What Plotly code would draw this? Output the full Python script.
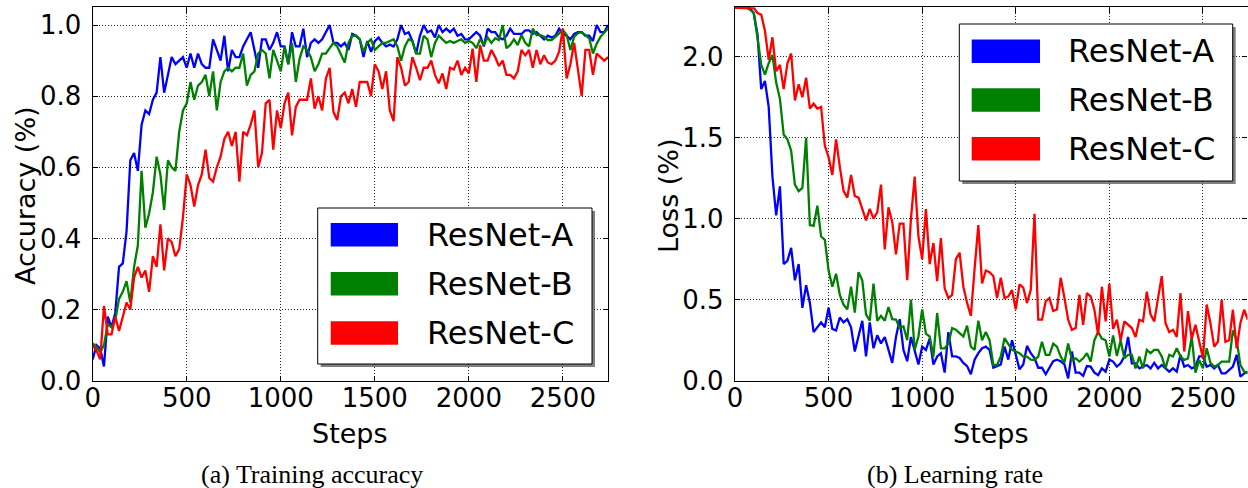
import plotly.graph_objects as go

# ---------------- data ----------------
steps = list(range(0, 2741, 20))
series_names = ["ResNet-A", "ResNet-B", "ResNet-C"]
series_colors = ["#0000ff", "#008000", "#ff0000"]

acc_a = [0.06, 0.10, 0.09, 0.04, 0.18, 0.15, 0.19, 0.32, 0.33, 0.42,
         0.62, 0.64, 0.59, 0.72, 0.76, 0.75, 0.79, 0.81, 0.91, 0.81,
         0.86, 0.91, 0.89, 0.90, 0.91, 0.88, 0.92, 0.88, 0.92, 0.89,
         0.88, 0.88, 0.96, 0.93, 0.90, 0.97, 0.87, 0.93, 0.91, 0.91,
         0.94, 0.96, 0.98, 0.93, 0.88, 0.96, 0.96, 0.93, 0.95, 0.98,
         0.94, 0.94, 0.89, 0.98, 0.94, 0.94, 0.99, 0.91, 0.95, 0.96,
         0.95, 0.96, 0.98, 1.00, 0.95, 0.95, 0.94, 0.95, 0.93, 0.975,
         0.97, 0.96, 0.91, 0.955, 0.925, 0.955, 0.965, 0.95, 0.94, 0.945,
         0.94, 0.96, 1.00, 0.975, 0.98, 0.955, 0.92, 0.97, 1.00, 0.98,
         0.985, 0.965, 1.00, 0.98, 0.99, 0.98, 0.99, 0.97, 0.975, 0.96,
         0.96, 0.97, 0.98, 0.97, 0.94, 0.99, 0.98, 0.98, 0.965, 0.96,
         0.97, 0.99, 0.975, 0.975, 0.975, 0.985, 0.985, 0.975, 0.98, 0.97,
         0.96, 0.97, 0.965, 0.97, 0.99, 0.975, 0.97, 0.96, 0.975, 0.98,
         0.98, 0.97, 0.97, 0.955, 1.00, 0.98, 0.98, 1.00]

acc_b = [0.105, 0.095, 0.08, 0.10, 0.16, 0.15, 0.17, 0.23, 0.25, 0.28,
         0.22, 0.32, 0.38, 0.59, 0.43, 0.47, 0.53, 0.63, 0.58, 0.48,
         0.62, 0.60, 0.59, 0.70, 0.76, 0.78, 0.84, 0.79, 0.83, 0.84,
         0.86, 0.80, 0.87, 0.76, 0.84, 0.87, 0.88, 0.87, 0.88, 0.88,
         0.92, 0.83, 0.86, 0.87, 0.92, 0.93, 0.92, 0.85, 0.93, 0.90,
         0.87, 0.94, 0.89, 0.95, 0.84, 0.905, 0.94, 0.93, 0.91, 0.87,
         0.89, 0.92, 0.92, 0.935, 0.95, 0.94, 0.915, 0.895, 0.95, 0.97,
         0.97, 0.96, 0.925, 0.95, 0.96, 0.93, 0.94, 0.95, 0.95, 0.955,
         0.96, 0.94, 0.90, 0.94, 0.96, 0.955, 0.92, 0.92, 0.97, 0.96,
         0.91, 0.95, 0.97, 0.96, 0.95, 0.955, 0.95, 0.955, 0.96, 0.95,
         0.955, 0.95, 0.935, 0.96, 0.945, 0.965, 0.95, 0.963, 0.958, 1.00,
         0.935, 0.944, 0.96, 0.944, 0.972, 0.95, 0.94, 0.99, 0.972, 0.972,
         0.967, 0.958, 0.958, 0.967, 0.977, 0.986, 0.972, 0.93, 0.967, 0.977,
         0.98, 0.972, 0.963, 0.92, 0.948, 0.967, 0.98, 0.99]

acc_c = [0.10, 0.085, 0.06, 0.21, 0.13, 0.13, 0.18, 0.14, 0.18, 0.22,
         0.20, 0.29, 0.32, 0.29, 0.31, 0.25, 0.35, 0.32, 0.44, 0.31,
         0.40, 0.39, 0.35, 0.37, 0.46, 0.58, 0.55, 0.49, 0.55, 0.58,
         0.65, 0.57, 0.56, 0.60, 0.63, 0.68, 0.70, 0.66, 0.70, 0.56,
         0.70, 0.69, 0.72, 0.76, 0.60, 0.64, 0.78, 0.79, 0.65, 0.76,
         0.71, 0.78, 0.81, 0.69, 0.77, 0.79, 0.79, 0.79, 0.85, 0.765,
         0.80, 0.76, 0.85, 0.88, 0.756, 0.733, 0.80, 0.81, 0.78, 0.82,
         0.77, 0.84, 0.84, 0.84, 0.80, 0.89, 0.87, 0.82, 0.87, 0.76,
         0.73, 0.91, 0.88, 0.83, 0.84, 0.91, 0.88, 0.845, 0.88, 0.88,
         0.90, 0.86, 0.836, 0.864, 0.82, 0.88, 0.875, 0.90, 0.86, 0.88,
         0.864, 0.934, 0.84, 0.944, 0.90, 0.90, 0.93, 0.91, 0.885, 0.90,
         0.86, 0.86, 0.85, 0.87, 0.93, 0.915, 0.93, 0.88, 0.93, 0.89,
         0.915, 0.895, 0.89, 0.90, 0.925, 0.99, 0.85, 0.89, 0.95, 0.88,
         0.80, 0.93, 0.93, 0.86, 0.92, 0.91, 0.90, 0.91]

loss_a = [2.302, 2.302, 2.302, 2.302, 2.30, 2.27, 2.14, 1.80, 1.85, 1.69,
          1.26, 1.02, 1.20, 0.72, 0.74, 0.82, 0.62, 0.72, 0.45, 0.59,
          0.48, 0.30, 0.33, 0.36, 0.33, 0.45, 0.32, 0.31, 0.39, 0.36,
          0.38, 0.33, 0.18, 0.28, 0.37, 0.15, 0.36, 0.20, 0.28, 0.23,
          0.27, 0.19, 0.11, 0.27, 0.38, 0.19, 0.12, 0.27, 0.18, 0.10,
          0.21, 0.19, 0.26, 0.10, 0.15, 0.17, 0.05, 0.30, 0.15, 0.15,
          0.14, 0.11, 0.09, 0.04, 0.13, 0.17, 0.20, 0.21, 0.19, 0.08,
          0.09, 0.10, 0.21, 0.13, 0.25, 0.15, 0.07, 0.10, 0.215, 0.17,
          0.14, 0.08, 0.08, 0.04, 0.08, 0.12, 0.13, 0.12, 0.10, 0.014,
          0.18, 0.05, 0.05, 0.03, 0.09, 0.087, 0.05, 0.035, 0.076, 0.056,
          0.13, 0.118, 0.087, 0.107, 0.149, 0.27, 0.107, 0.107, 0.076, 0.087,
          0.097, 0.076, 0.11, 0.076, 0.097, 0.076, 0.056, 0.076, 0.056, 0.16,
          0.087, 0.097, 0.076, 0.087, 0.15, 0.15, 0.087, 0.097, 0.076, 0.097,
          0.045, 0.045, 0.066, 0.087, 0.16, 0.025, 0.045, 0.056]

loss_b = [2.302, 2.302, 2.302, 2.302, 2.29, 2.27, 2.12, 1.95, 1.89, 1.96,
          2.01, 1.84, 1.74, 1.52, 1.49, 1.42, 1.21, 1.17, 1.19, 1.50,
          0.96, 0.955, 1.08, 0.89, 0.87, 0.68, 0.58, 0.66, 0.53, 0.47,
          0.44, 0.58, 0.42, 0.67, 0.62, 0.41, 0.37, 0.60, 0.37, 0.40,
          0.37, 0.455, 0.38, 0.377, 0.325, 0.335, 0.25, 0.50, 0.19, 0.273,
          0.44, 0.29, 0.273, 0.149, 0.418, 0.20, 0.20, 0.23, 0.325, 0.315,
          0.294, 0.273, 0.34, 0.21, 0.19, 0.37, 0.25, 0.30, 0.25, 0.097,
          0.097, 0.149, 0.263, 0.23, 0.19, 0.18, 0.17, 0.149, 0.149, 0.13,
          0.128, 0.149, 0.24, 0.16, 0.16, 0.228, 0.21, 0.149, 0.112, 0.23,
          0.128, 0.138, 0.118, 0.138, 0.17, 0.118, 0.25, 0.30, 0.26, 0.25,
          0.149, 0.28, 0.153, 0.25, 0.138, 0.16, 0.16, 0.076, 0.149, 0.076,
          0.19, 0.17, 0.19, 0.19, 0.149, 0.076, 0.16, 0.149, 0.20, 0.149,
          0.128, 0.138, 0.27, 0.05, 0.128, 0.076, 0.20, 0.11, 0.087, 0.097,
          0.118, 0.118, 0.118, 0.31, 0.25, 0.097, 0.056, 0.045]

loss_c = [2.302, 2.302, 2.302, 2.302, 2.302, 2.302, 2.27, 2.26, 2.16, 1.98,
          2.12, 1.91, 1.95, 1.80, 1.96, 2.02, 1.73, 1.83, 1.75, 1.87,
          1.68, 1.71, 1.68, 1.69, 1.45, 1.38, 1.27, 1.49, 1.32, 1.17,
          1.13, 1.27, 1.14, 1.13, 1.06, 0.99, 1.06, 1.00, 1.04, 1.21,
          0.81, 1.07, 0.98, 0.78, 0.97, 0.97, 0.62, 1.00, 1.26, 0.89,
          0.75, 1.06, 0.72, 0.85, 0.615, 0.88, 0.57, 0.51, 0.53, 0.75,
          0.79, 0.58, 0.48, 0.40, 0.69, 0.96, 0.60, 0.68, 0.67, 0.646,
          0.51, 0.635, 0.51, 0.52, 0.56, 0.44, 0.594, 0.575, 0.48, 0.56,
          1.03, 0.377, 0.377, 0.49, 0.51, 0.43, 0.44, 0.635, 0.51, 0.376,
          0.314, 0.325, 0.53, 0.345, 0.54, 0.52, 0.438, 0.283, 0.58, 0.366,
          0.60, 0.32, 0.376, 0.25, 0.366, 0.345, 0.325, 0.27, 0.376, 0.366,
          0.55, 0.41, 0.366, 0.51, 0.645, 0.355, 0.30, 0.314, 0.27, 0.54,
          0.18, 0.43, 0.26, 0.345, 0.25, 0.138, 0.47, 0.355, 0.21, 0.24,
          0.50, 0.24, 0.25, 0.438, 0.20, 0.355, 0.438, 0.376]

acc_ticks = [0.0, 0.2, 0.4, 0.6, 0.8, 1.0]
loss_ticks = [0.0, 0.5, 1.0, 1.5, 2.0]
step_ticks = [0, 500, 1000, 1500, 2000, 2500]

# ---------------- layout helpers ----------------
W, H = 1248, 488
def px(x):
    return x / W
def py(y):
    return 1 - y / H

SANS = "DejaVu Sans"
SERIF = "Liberation Serif"

fig = go.Figure()
for vals, name, col in zip([acc_a, acc_b, acc_c], series_names, series_colors):
    fig.add_trace(go.Scatter(x=steps, y=vals, mode="lines", name=name,
                             line=dict(color=col, width=2.3),
                             xaxis="x", yaxis="y", showlegend=False))
for vals, name, col in zip([loss_a, loss_b, loss_c], series_names, series_colors):
    fig.add_trace(go.Scatter(x=steps, y=vals, mode="lines", name=name,
                             line=dict(color=col, width=2.3),
                             xaxis="x2", yaxis="y2", showlegend=False))

ax_common = dict(showline=True, linecolor="black", linewidth=1.4, mirror="allticks",
                 ticks="inside", ticklen=5, tickwidth=1, tickcolor="black",
                 showgrid=True, gridcolor="rgba(0,0,0,0.85)", gridwidth=1,
                 griddash="1px,2px", zeroline=False, automargin=False,
                 tickfont=dict(family=SANS, size=26, color="black"))

ydom = [py(380.7), py(7.3)]
fig.update_layout(
    width=W, height=H,
    margin=dict(l=0, r=0, t=0, b=0, autoexpand=False),
    paper_bgcolor="white", plot_bgcolor="white",
    xaxis=dict(domain=[px(92.7), px(608)], range=[0, 2740], tickvals=step_ticks,
               tickformat="d", anchor="y", ticklabelstandoff=-6, **ax_common),
    yaxis=dict(domain=ydom, range=[0, 1.05], tickvals=acc_ticks, tickformat=".1f",
               anchor="x", ticklabelstandoff=5, **ax_common),
    xaxis2=dict(domain=[px(735), px(1247.5)], range=[0, 2738], tickvals=step_ticks,
                tickformat="d", anchor="y2", ticklabelstandoff=-6, **ax_common),
    yaxis2=dict(domain=ydom, range=[0, 2.305], tickvals=loss_ticks, tickformat=".1f",
                anchor="x2", ticklabelstandoff=5, **ax_common),
)

shapes = []
annotations = []

def add_legend(x0, y0, x1, y1, patch_x0, patch_x1, rows, text_x):
    # shadow
    shapes.append(dict(type="rect", xref="paper", yref="paper",
                       x0=px(x0 + 3), x1=px(x1 + 3), y0=py(y1 + 3), y1=py(y0 + 3),
                       fillcolor="rgba(0,0,0,0.5)", line=dict(width=0), layer="above"))
    shapes.append(dict(type="rect", xref="paper", yref="paper",
                       x0=px(x0), x1=px(x1), y0=py(y1), y1=py(y0),
                       fillcolor="white", line=dict(color="black", width=1), layer="above"))
    for rc, name, col in zip(rows, series_names, series_colors):
        shapes.append(dict(type="rect", xref="paper", yref="paper",
                           x0=px(patch_x0), x1=px(patch_x1), y0=py(rc + 11.7), y1=py(rc - 11.7),
                           fillcolor=col, line=dict(width=0), layer="above"))
        annotations.append(dict(text=name, xref="paper", yref="paper", x=px(text_x), y=py(rc),
                                xanchor="left", yanchor="middle", showarrow=False,
                                font=dict(family=SANS, size=32, color="black")))

add_legend(317.7, 208, 592, 364, 330.7, 398, [234.7, 283.8, 333.0], 425)
add_legend(959.3, 24, 1232.7, 181, 971.7, 1040, [51.3, 100.0, 148.7], 1066)

# axis titles
annotations += [
    dict(text="Steps", xref="paper", yref="paper", x=px(350.4), y=py(433),
         xanchor="center", yanchor="middle", showarrow=False,
         font=dict(family=SANS, size=27, color="black")),
    dict(text="Steps", xref="paper", yref="paper", x=px(991), y=py(433),
         xanchor="center", yanchor="middle", showarrow=False,
         font=dict(family=SANS, size=27, color="black")),
    dict(text="Accuracy (%)", xref="paper", yref="paper", x=px(25), y=py(196),
         xanchor="center", yanchor="middle", textangle=-90, showarrow=False,
         font=dict(family=SANS, size=27, color="black")),
    dict(text="Loss (%)", xref="paper", yref="paper", x=px(668), y=py(196),
         xanchor="center", yanchor="middle", textangle=-90, showarrow=False,
         font=dict(family=SANS, size=27, color="black")),
    dict(text="(a) Training accuracy", xref="paper", yref="paper", x=px(312), y=py(474),
         xanchor="center", yanchor="middle", showarrow=False,
         font=dict(family=SERIF, size=26, color="black")),
    dict(text="(b) Learning rate", xref="paper", yref="paper", x=px(955), y=py(474),
         xanchor="center", yanchor="middle", showarrow=False,
         font=dict(family=SERIF, size=26, color="black")),
]

fig.update_layout(shapes=shapes, annotations=annotations)
fig.write_html("out.html", config={"displayModeBar": False},
               post_script="document.body.style.margin='0';document.body.style.overflow='hidden';")
